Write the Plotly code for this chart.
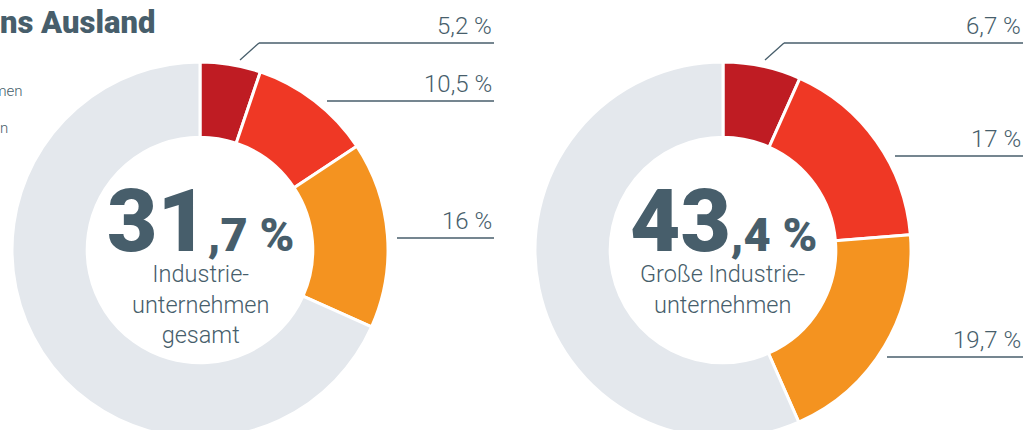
import plotly.graph_objects as go

W, H = 1031, 438

# data
cats = ["Anteil A", "Anteil B", "Anteil C", "Rest"]
left_vals = [5.2, 10.5, 16.0]
right_vals = [6.7, 17.0, 19.7]
left_total = "31,7 %"
right_total = "43,4 %"
left_labels = ["5,2 %", "10,5 %", "16 %"]
right_labels = ["6,7 %", "17 %", "19,7 %"]
left_title = "Industrie-<br>unternehmen<br>gesamt"
right_title = "Große Industrie-<br>unternehmen"

slice_colors = ["#bf1c23", "#ef3825", "#f49320", "#e4e8ed"]
TXT = "#475e6b"
FONT = "Roboto"


def px(x):
    return x / W


def py(y):
    return 1 - y / H


fig = go.Figure()


def add_donut(vals, cx, cy, r):
    rest = round(100 - sum(vals), 1)
    fig.add_trace(go.Pie(
        labels=cats, values=vals + [rest], sort=False, direction="clockwise",
        rotation=0, hole=0.6, textinfo="none", hoverinfo="skip",
        marker=dict(colors=slice_colors, line=dict(color="white", width=3)),
        domain=dict(x=[px(cx - r), px(cx + r)], y=[py(cy + r), py(cy - r)]),
        showlegend=False,
    ))


add_donut(left_vals, 200, 250, 188)
add_donut(right_vals, 723, 250, 188)

shapes = []
annots = []


def line(x0, y0, x1, y1):
    shapes.append(dict(type="line", xref="paper", yref="paper",
                       x0=px(x0), y0=py(y0), x1=px(x1), y1=py(y1),
                       line=dict(color=TXT, width=1.3)))


def label(text, xr, yb):
    annots.append(dict(text=text, xref="paper", yref="paper", x=px(xr), y=py(yb),
                       xanchor="right", yanchor="bottom", showarrow=False,
                       font=dict(family=FONT, size=24, color=TXT, weight=300)))


# left leader lines
line(240, 60, 259, 43); line(259, 43, 494, 43); label(left_labels[0], 494, 42)
line(327, 101, 494, 101); label(left_labels[1], 494, 100)
line(397, 238, 494, 238); label(left_labels[2], 494, 237)
# right leader lines
line(765, 60, 784, 43); line(784, 43, 1023, 43); label(right_labels[0], 1023, 42)
line(895, 156, 1023, 156); label(right_labels[1], 1023, 155)
line(887, 357, 1023, 357); label(right_labels[2], 1023, 356)


def center(total, sub, cx):
    big, small = total.split(",")
    annots.append(dict(
        text=f"<span style='font-size:87px'>{big}</span><span style='font-size:47px'>,{small}</span>",
        xref="paper", yref="paper", x=px(cx), y=py(274), xanchor="center", yanchor="bottom",
        showarrow=False, font=dict(family=FONT, size=47, color=TXT, weight=900)))
    annots.append(dict(
        text=sub, xref="paper", yref="paper", x=px(cx), y=py(258), xanchor="center", yanchor="top",
        showarrow=False, font=dict(family=FONT, size=23.5, color=TXT, weight=300)))


center(left_total, left_title, 200)
center(right_total, right_title, 723)

# cropped title and legend fragments
annots.append(dict(text="ns Ausland", xref="paper", yref="paper", x=px(157), y=py(22),
                   xanchor="right", yanchor="middle", showarrow=False,
                   font=dict(family=FONT, size=31, color=TXT, weight=900)))
annots.append(dict(text="hmen", xref="paper", yref="paper", x=px(25), y=py(91),
                   xanchor="right", yanchor="middle", showarrow=False,
                   font=dict(family=FONT, size=15, color=TXT, weight=300)))
annots.append(dict(text="n", xref="paper", yref="paper", x=px(10), y=py(128),
                   xanchor="right", yanchor="middle", showarrow=False,
                   font=dict(family=FONT, size=15, color=TXT, weight=300)))

fig.update_layout(width=W, height=H, margin=dict(l=0, r=0, t=0, b=0),
                  paper_bgcolor="white", plot_bgcolor="white",
                  shapes=shapes, annotations=annots)

fig.write_html("out.html", config={"displayModeBar": False},
               post_script="document.body.style.margin='0px';document.body.style.overflow='hidden';")
